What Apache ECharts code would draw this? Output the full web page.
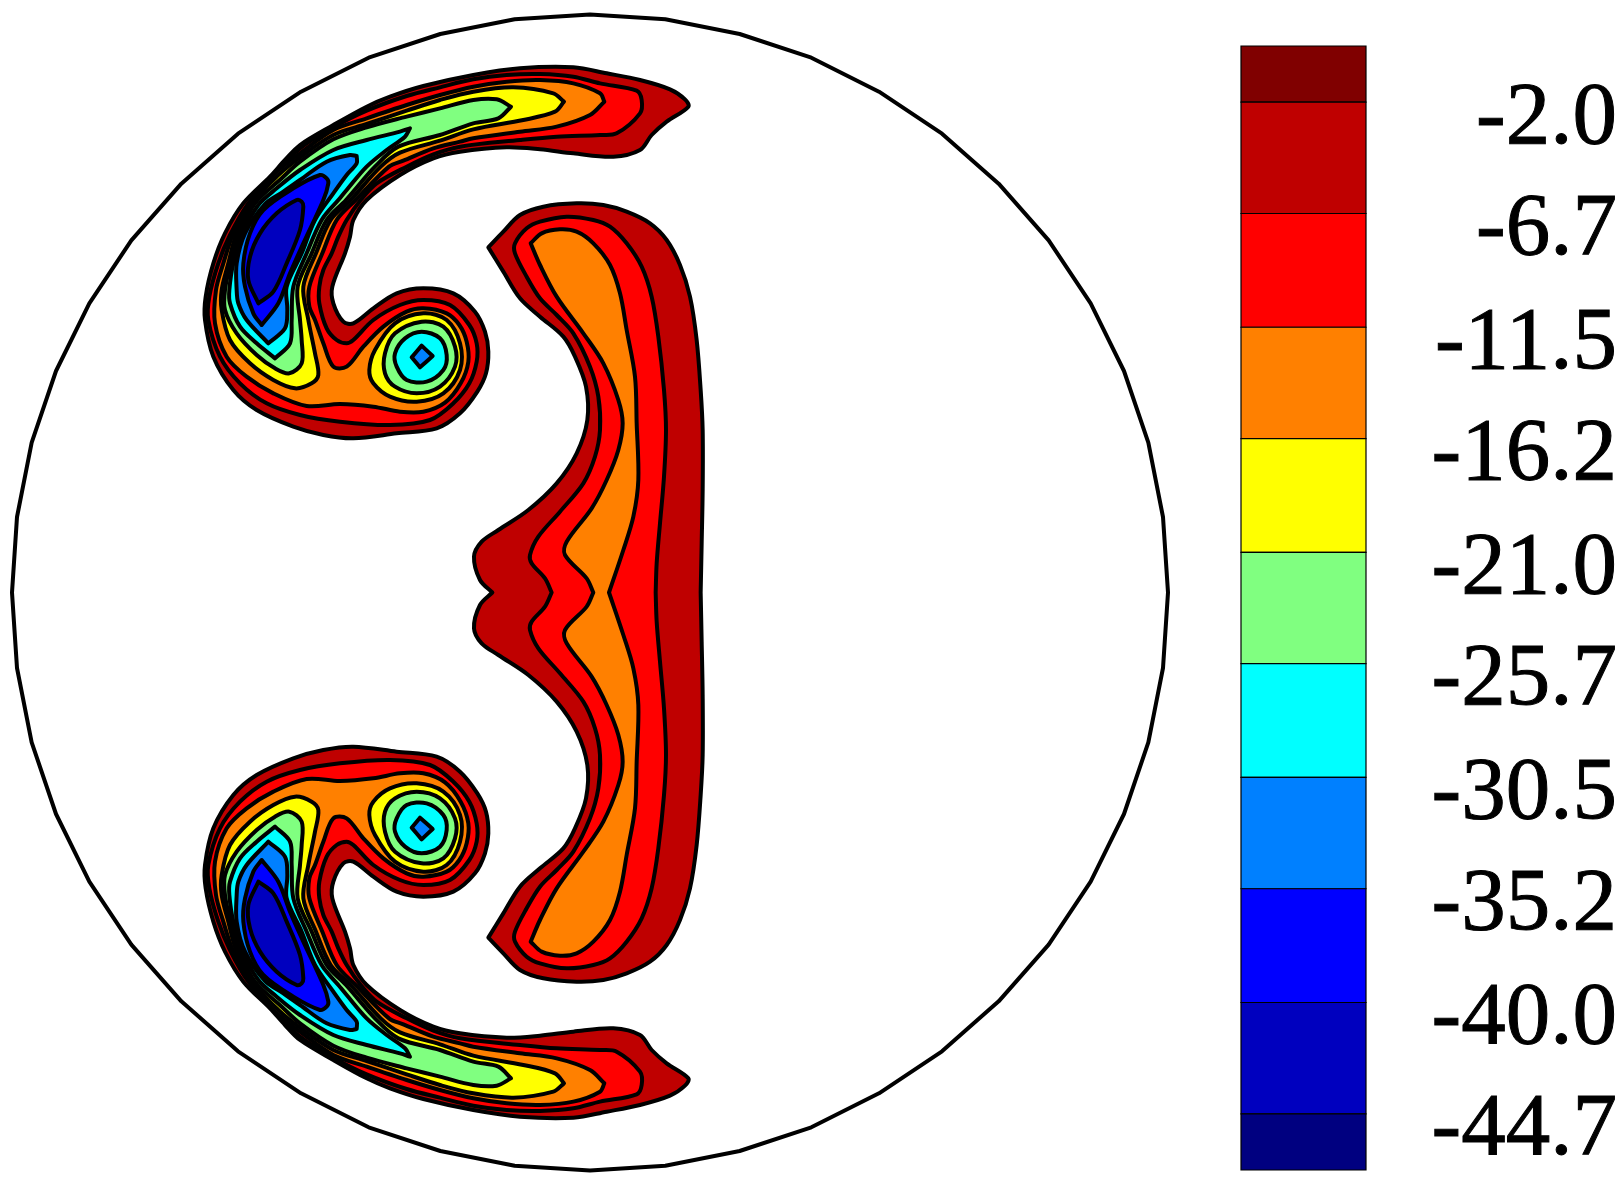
<!DOCTYPE html>
<html>
<head>
<meta charset="utf-8">
<style>html,body{margin:0;padding:0;background:#fff}#c{width:1620px;height:1185px}</style>
<script src="https://cdn.jsdelivr.net/npm/echarts@6/dist/echarts.min.js"></script>
</head>
<body>
<div id="c"></div>
<script>
// Colour bar
const levels = [-2.0,-6.7,-11.5,-16.2,-21.0,-25.7,-30.5,-35.2,-40.0,-44.7];
const bandTops = [0.37,-2.0,-6.7,-11.5,-16.2,-21.0,-25.7,-30.5,-35.2,-40.0,-44.7];
const bandBottoms = [-2.0,-6.7,-11.5,-16.2,-21.0,-25.7,-30.5,-35.2,-40.0,-44.7,-47.07];
const bandColors = ['#800000','#BF0000','#FF0000','#FF8000','#FFFF00','#80FF80','#00FFFF','#0080FF','#0000FF','#0000BF','#000080'];

// Domain wall, upper half, in mesh units (the lower half is its reflection)
const wallUpper = [[2934,1627.5],[2919,1401],[2875,1178],[2802,963],[2702,760],[2576,571],[2426,401],[2256,251],[2067,125],[1864,23],[1649,-48],[1426,-92],[1200,-106.5],[974,-92],[751,-48],[536,23],[333,125],[144,251],[-26,401],[-176,571],[-302,760],[-402,963],[-475,1178],[-519,1401],[-534,1627.5]];

// Upper lobe contours (a repeated point is a sharp corner of the contour)
const lobeL1 = [[1495,170],[1485,148],[1440,118],[1350,90],[1250,70],[1150,52],[990,55],[850,75],[700,108],[600,140],[530,170],[430,225],[330,285],[285,330],[240,380],[160,460],[105,550],[70,640],[47,740],[45,810],[70,920],[130,1020],[200,1080],[310,1130],[400,1155],[490,1165],[620,1150],[740,1135],[810,1090],[862,1025],[888,970],[895,905],[885,845],[855,785],[790,730],[700,715],[620,730],[550,775],[490,820],[460,815],[430,760],[427,710],[465,610],[480,560],[490,510],[530,450],[630,375],[730,325],[810,305],[950,292],[1050,298],[1150,310],[1270,320],[1350,300],[1385,255],[1430,215]];
const lobeL2 = [[1355,150],[1340,122],[1230,100],[1150,80],[1050,72],[950,75],[850,88],[750,112],[650,138],[530,182],[430,232],[330,295],[248,378],[175,460],[120,555],[85,640],[58,740],[55,810],[90,920],[150,1000],[230,1060],[330,1095],[450,1115],[600,1125],[720,1110],[790,1060],[838,1000],[860,935],[860,880],[838,825],[780,765],[700,750],[630,765],[550,810],[490,870],[470,880],[440,870],[410,835],[388,760],[388,710],[400,660],[425,610],[445,560],[470,510],[512,450],[560,400],[650,350],[730,313],[810,290],[990,270],[1100,260],[1230,255],[1280,250],[1350,190]];
const lobeL3 = [[1243,155],[1243,155],[1230,130],[1150,100],[1050,90],[950,95],[850,110],[750,135],[650,165],[530,205],[430,240],[330,310],[255,370],[180,458],[130,550],[100,640],[78,720],[75,820],[110,920],[170,980],[250,1030],[350,1068],[450,1062],[550,1070],[630,1085],[700,1085],[765,1058],[812,1000],[835,935],[830,875],[808,825],[770,790],[700,775],[650,785],[580,830],[520,890],[470,950],[430,950],[400,880],[375,810],[358,770],[358,710],[397,610],[440,510],[497,450],[597,350],[640,332],[730,295],[810,275],[850,265],[990,245],[1100,230],[1200,195]];
const lobeL4 = [[1122,155],[1122,155],[1090,130],[970,112],[850,125],[750,150],[650,182],[530,222],[430,255],[330,322],[265,375],[190,455],[140,550],[115,640],[95,720],[95,780],[120,870],[180,940],[250,990],[315,1015],[365,1000],[385,975],[375,910],[355,810],[340,710],[378,610],[422,510],[482,450],[572,350],[630,308],[750,272],[850,238],[1000,210],[1095,185]];
const lobeL5 = [[963,170],[963,170],[920,148],[850,150],[750,175],[650,200],[530,232],[430,268],[330,335],[275,385],[195,460],[150,550],[122,640],[105,720],[105,780],[140,850],[200,915],[255,955],[298,970],[335,940],[335,870],[330,810],[323,710],[365,610],[410,510],[468,450],[555,350],[625,290],[750,255],[850,220],[925,205]];
const lobeL6 = [[660,235],[660,235],[630,245],[530,270],[430,300],[330,360],[260,415],[205,465],[158,550],[130,640],[118,720],[120,760],[150,830],[200,880],[255,925],[255,925],[300,880],[305,810],[310,710],[350,610],[395,510],[445,450],[470,420],[530,350],[590,300],[645,260]];
const lobeL7 = [[500,318],[500,318],[480,315],[410,335],[330,390],[280,425],[225,462],[165,550],[140,640],[140,720],[145,760],[170,810],[235,880],[235,880],[285,835],[292,780],[290,710],[335,610],[375,510],[430,430],[470,375],[500,340]];
const lobeL8 = [[410,385],[390,375],[310,415],[220,480],[180,550],[160,640],[165,710],[190,790],[215,825],[215,825],[265,760],[300,670],[340,580],[400,450],[415,400]];
const lobeL9 = [[335,455],[320,450],[260,490],[210,550],[180,620],[175,690],[205,760],[205,760],[250,725],[290,640],[330,540],[340,470]];

// Vortex contours inside the upper lobe
const vortexL4 = [[700,790],[770,810],[810,880],[810,960],[760,1030],[680,1055],[600,1040],[550,1000],[538,960],[555,900],[615,820]];
const vortexL5 = [[695,815],[760,830],[795,890],[795,950],[750,1010],[680,1030],[615,1010],[585,970],[585,910],[615,850]];
const vortexL6 = [[695,845],[750,865],[770,915],[760,960],[710,995],[650,990],[620,950],[615,910],[645,865]];
const vortexL7 = [[695,887],[695,887],[728,918],[728,918],[690,952],[690,952],[665,922],[665,922]];

// Central body, upper half of each contour (axis point to axis point)
const coreL1 = [[907,1627.5],[870,1590],[852,1520],[875,1475],[925,1440],[1015,1380],[1100,1300],[1160,1210],[1192,1110],[1188,1010],[1155,920],[1120,860],[1050,800],[990,745],[940,665],[895,592],[895,592],[940,545],[990,495],[1060,470],[1160,460],[1240,465],[1310,485],[1380,520],[1430,570],[1470,645],[1500,740],[1520,870],[1532,1020],[1538,1140],[1538,1320],[1535,1480],[1532,1627.5]];
const coreL2 = [[1085,1627.5],[1065,1585],[1025,1540],[1020,1515],[1045,1460],[1110,1385],[1180,1300],[1215,1220],[1230,1140],[1225,1040],[1200,950],[1150,850],[1100,795],[1050,745],[1010,680],[975,610],[975,580],[1010,535],[1050,515],[1130,500],[1210,510],[1260,530],[1310,580],[1355,650],[1385,740],[1405,860],[1422,1020],[1428,1140],[1422,1280],[1410,1420],[1400,1540],[1397,1627.5]];
const coreL3 = [[1210,1627.5],[1190,1585],[1125,1515],[1130,1475],[1205,1375],[1250,1290],[1285,1200],[1298,1120],[1285,1050],[1240,940],[1180,850],[1100,740],[1050,645],[1022,580],[1022,580],[1055,550],[1110,538],[1160,545],[1210,580],[1260,645],[1290,730],[1310,840],[1335,980],[1340,1120],[1345,1290],[1330,1400],[1300,1500],[1257,1627.5]];

const AXIS_SUM = 3255;               // reflection across the symmetry axis
const reflect = p => [p[0], AXIS_SUM - p[1]];
const closeHalf = half => half.concat(half.slice().reverse().map(reflect));

const C = {L1:bandColors[1],L2:bandColors[2],L3:bandColors[3],L4:bandColors[4],L5:bandColors[5],L6:bandColors[6],L7:bandColors[7],L8:bandColors[8],L9:bandColors[9]};
const upperShapes = [
  [lobeL1,C.L1],[lobeL2,C.L2],[lobeL3,C.L3],
  [lobeL4,C.L4],[lobeL5,C.L5],[lobeL6,C.L6],[lobeL7,C.L7],[lobeL8,C.L8],[lobeL9,C.L9],
  [vortexL4,C.L4],[vortexL5,C.L5],[vortexL6,C.L6],[vortexL7,C.L7]
];

function polySeries(pts, fill, lw, smooth) {
  return {
    type:'custom', coordinateSystem:'cartesian2d', xAxisIndex:0, yAxisIndex:0,
    silent:true, animation:false, clip:false,
    encode:{x:0,y:1}, data:pts,
    renderItem:(params, api) => {
      if (params.dataIndex !== 0) return null;
      return {type:'polygon',
        shape:{points:pts.map(p => api.coord(p)), smooth:smooth},
        style:{fill:fill, stroke:'#000', lineWidth:lw, lineJoin:'round'}};
    }
  };
}

const series = [polySeries(closeHalf(wallUpper), '#fff', 4, 0)];
[[coreL1,C.L1],[coreL2,C.L2],[coreL3,C.L3]].forEach(([h,c]) => series.push(polySeries(closeHalf(h), c, 4, 0.33)));
upperShapes.forEach(([s,c]) => series.push(polySeries(s, c, 4, 0.33)));
upperShapes.forEach(([s,c]) => series.push(polySeries(s.map(reflect), c, 4, 0.33)));

// colour bar bands
series.push({
  type:'custom', coordinateSystem:'cartesian2d', xAxisIndex:1, yAxisIndex:1,
  silent:true, animation:false,
  encode:{y:[0,1]},
  data:bandTops.map((t,i) => [t, bandBottoms[i]]),
  renderItem:(params, api) => {
    const a = api.coord([0, api.value(0)]);
    const b = api.coord([1, api.value(1)]);
    return {type:'rect', shape:{x:a[0], y:a[1], width:b[0]-a[0], height:b[1]-a[1]},
      style:{fill:bandColors[params.dataIndex], stroke:'#000', lineWidth:1.2}};
  }
});

const chart = echarts.init(document.getElementById('c'), null, {renderer:'canvas', width:1620, height:1185});
chart.setOption({
  animation:false,
  backgroundColor:'#fff',
  grid:[
    {left:0, top:0, width:1620, height:1185, containLabel:false, outerBoundsMode:'none'},
    {left:1241, top:46, width:125, height:1124, containLabel:false, outerBoundsMode:'none'}
  ],
  xAxis:[
    {gridIndex:0, type:'value', min:-570, max:4290, show:false},
    {gridIndex:1, type:'value', min:0, max:1, show:false}
  ],
  yAxis:[
    {gridIndex:0, type:'value', min:-150, max:3405, inverse:true, show:false},
    {gridIndex:1, type:'value', min:-47.07, max:0.37, position:'right',
      axisLine:{show:false}, axisTick:{show:false}, splitLine:{show:false},
      axisLabel:{show:true, customValues:levels, formatter:v => v.toFixed(1),
        fontFamily:'"Liberation Serif", serif', fontSize:89, color:'#000',
        textBorderColor:'#000', textBorderWidth:1,
        margin:251, align:'right', verticalAlign:'top', lineHeight:34}}
  ],
  series:series
});
</script>
</body>
</html>
